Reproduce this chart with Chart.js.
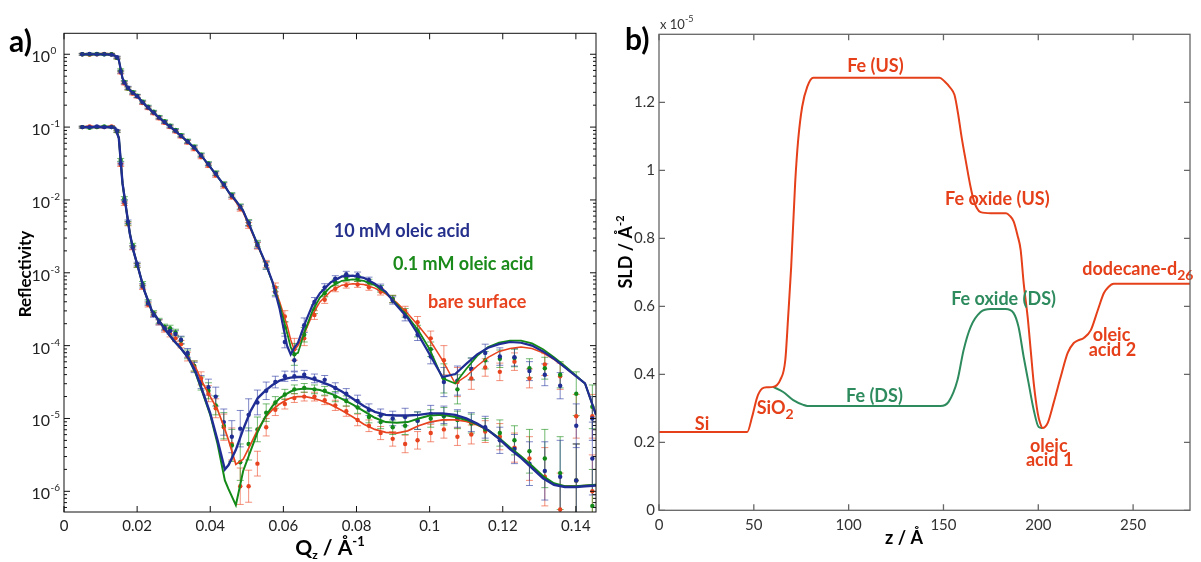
<!DOCTYPE html>
<html>
<head>
<meta charset="utf-8">
<title>Reflectivity and SLD profiles</title>
<script src="https://cdn.jsdelivr.net/npm/chart.js@4.4.1/dist/chart.umd.min.js"></script>
<style>
  html, body { margin: 0; padding: 0; background: #fff; }
  #page { position: relative; width: 1201px; height: 562px; overflow: hidden; }
  #chartA { position: absolute; left: 0; top: 0; }
  #chartB { position: absolute; left: 600px; top: 0; }
</style>
</head>
<body>
<div id="page">
  <canvas id="chartA" width="600" height="562"></canvas>
  <canvas id="chartB" width="601" height="562"></canvas>
</div>
<script>
const FONT = 'Lato, "Open Sans", "DejaVu Sans", sans-serif';

// ---------- panel a: reflectivity, values stored as log10(R) ----------
const qTicks = [0, 0.02, 0.04, 0.06, 0.08, 0.1, 0.12, 0.14];
const rDecades = [1e-6, 1e-5, 1e-4, 1e-3, 1e-2, 1e-1, 1];

// fitted curves
const qFit = [0.005, 0.008, 0.011, 0.013, 0.014, 0.015, 0.016, 0.017, 0.018, 0.019,
  0.020, 0.022, 0.024, 0.026, 0.028, 0.030, 0.032, 0.034, 0.036, 0.038,
  0.040, 0.042, 0.044, 0.045, 0.047, 0.049, 0.051, 0.053, 0.055, 0.057,
  0.059, 0.061, 0.062, 0.063, 0.064, 0.066, 0.068, 0.070, 0.073, 0.076,
  0.079, 0.082, 0.085, 0.088, 0.091, 0.094, 0.097, 0.100, 0.1035, 0.107,
  0.110, 0.113, 0.116, 0.119, 0.122, 0.125, 0.128, 0.131, 0.134, 0.137,
  0.140, 0.1425, 0.1455];

const blueUpFit = [0, 0, 0, -0.005, -0.02, -0.08, -0.33, -0.43, -0.49, -0.535,
  -0.575, -0.685, -0.78, -0.87, -0.955, -1.035, -1.12, -1.21, -1.30, -1.42,
  -1.55, -1.68, -1.81, -1.89, -2.01, -2.15, -2.38, -2.62, -2.85, -3.12,
  -3.50, -4.0, -4.12, -4.03, -3.96, -3.68, -3.44, -3.28, -3.13, -3.05,
  -3.04, -3.07, -3.15, -3.26, -3.45, -3.62, -3.86, -4.12, -4.43, -4.39,
  -4.25, -4.12, -4.03, -3.98, -3.95, -3.96, -4.0, -4.08, -4.18, -4.30,
  -4.42, -4.52, -4.95];
const greenUpFit = [0, 0, 0, -0.005, -0.02, -0.08, -0.33, -0.43, -0.49, -0.535,
  -0.575, -0.685, -0.78, -0.87, -0.955, -1.035, -1.12, -1.21, -1.30, -1.42,
  -1.55, -1.68, -1.81, -1.89, -2.01, -2.15, -2.38, -2.62, -2.86, -3.13,
  -3.45, -3.82, -4.02, -4.12, -4.10, -3.78, -3.52, -3.34, -3.19, -3.11,
  -3.09, -3.11, -3.17, -3.27, -3.43, -3.60, -3.80, -4.05, -4.45, -4.52,
  -4.32, -4.14, -4.02, -3.96, -3.93, -3.93, -3.97, -4.05, -4.16, -4.28,
  -4.41, -4.52, -4.95];
const redUpFit = [0, 0, 0, -0.005, -0.02, -0.08, -0.33, -0.43, -0.49, -0.535,
  -0.575, -0.685, -0.78, -0.87, -0.955, -1.035, -1.12, -1.21, -1.30, -1.42,
  -1.55, -1.68, -1.81, -1.89, -2.03, -2.17, -2.40, -2.63, -2.87, -3.12,
  -3.40, -3.72, -3.92, -4.06, -4.0, -3.80, -3.57, -3.40, -3.25, -3.17,
  -3.15, -3.16, -3.21, -3.29, -3.41, -3.56, -3.73, -3.92, -4.20, -4.52,
  -4.42, -4.28, -4.16, -4.08, -4.04, -4.02, -4.04, -4.10, -4.19, -4.30,
  -4.42, -4.52, -4.95];

const blueLoFit = [-1, -1, -1, -1.0, -1.01, -1.15, -1.77, -2.12, -2.46, -2.70,
  -2.88, -3.25, -3.52, -3.66, -3.80, -3.93, -4.04, -4.17, -4.36, -4.64,
  -4.93, -5.30, -5.70, -5.64, -5.43, -5.15, -4.90, -4.72, -4.62, -4.54,
  -4.48, -4.45, -4.44, -4.435, -4.43, -4.43, -4.46, -4.49, -4.55, -4.63,
  -4.73, -4.83, -4.91, -4.95, -4.96, -4.96, -4.95, -4.93, -4.93, -4.95,
  -5.0, -5.07, -5.16, -5.28, -5.42, -5.54, -5.68, -5.82, -5.91, -5.94,
  -5.94, -5.93, -5.92];
const greenLoFit = [-1, -1, -1, -1.0, -1.01, -1.15, -1.77, -2.12, -2.46, -2.70,
  -2.88, -3.25, -3.52, -3.66, -3.80, -3.93, -4.04, -4.17, -4.38, -4.66,
  -4.95, -5.35, -5.85, -5.97, -6.19, -5.72, -5.45, -5.18, -4.98, -4.83,
  -4.72, -4.66, -4.63, -4.61, -4.60, -4.59, -4.595, -4.61, -4.66, -4.73,
  -4.81, -4.90, -4.99, -5.05, -5.06, -5.05, -5.0, -4.96, -4.95, -4.98,
  -5.02, -5.08, -5.16, -5.27, -5.40, -5.52, -5.65, -5.79, -5.89, -5.93,
  -5.93, -5.92, -5.91];
const redLoFit = [-1, -1, -1, -1.0, -1.01, -1.15, -1.77, -2.12, -2.46, -2.70,
  -2.88, -3.25, -3.52, -3.66, -3.80, -3.93, -4.04, -4.17, -4.30, -4.52,
  -4.70, -4.88, -5.15, -5.30, -5.63, -5.56, -5.36, -5.15, -4.99, -4.88,
  -4.80, -4.74, -4.72, -4.705, -4.70, -4.70, -4.72, -4.75, -4.81, -4.89,
  -4.98, -5.08, -5.15, -5.19, -5.20, -5.17, -5.10, -5.05, -5.02, -5.02,
  -5.04, -5.09, -5.16, -5.28, -5.41, -5.53, -5.67, -5.81, -5.90, -5.93,
  -5.93, -5.92, -5.91];

// measured points
const qData = [0.005, 0.007, 0.009, 0.011, 0.013, 0.0145, 0.0155, 0.0165, 0.0175, 0.0188,
  0.020, 0.0215, 0.023, 0.0245, 0.026, 0.0275, 0.029, 0.0305, 0.032, 0.0338,
  0.0356, 0.0375, 0.0395, 0.0415, 0.0437, 0.0459, 0.0482, 0.0505, 0.0529, 0.0553,
  0.0578, 0.0604, 0.063, 0.0657, 0.0685, 0.0713, 0.0742, 0.0772, 0.0803, 0.0834,
  0.0866, 0.0899, 0.0933, 0.0967, 0.1003, 0.1039, 0.1076, 0.1114, 0.1152, 0.1192,
  0.1232, 0.1273, 0.1315, 0.1357, 0.1401, 0.1445];

const blueUpData = [0, 0.005, 0, 0, -0.005, -0.04, -0.24, -0.39, -0.46, -0.53,
  -0.575, -0.66, -0.73, -0.80, -0.87, -0.93, -0.99, -1.05, -1.12, -1.20,
  -1.28, -1.39, -1.51, -1.64, -1.79, -1.94, -2.10, -2.32, -2.62, -2.90,
  -3.27, -3.95, -4.20, -3.72, -3.40, -3.20, -3.08, -3.02, -3.03, -3.10,
  -3.20, -3.38, -3.60, -3.85, -4.15, -4.50, -4.48, -4.32, -4.10, -4.15,
  -4.16, -4.35, -4.40, -4.55, -5.10, -5.0];
const greenUpData = [0, 0, 0.005, 0, 0, -0.05, -0.22, -0.38, -0.47, -0.52,
  -0.57, -0.65, -0.72, -0.79, -0.86, -0.92, -0.98, -1.04, -1.11, -1.19,
  -1.27, -1.38, -1.50, -1.63, -1.78, -1.93, -2.09, -2.31, -2.60, -2.90,
  -3.25, -3.75, -4.12, -3.85, -3.50, -3.28, -3.13, -3.07, -3.08, -3.13,
  -3.22, -3.36, -3.55, -3.80, -4.05, -4.45, -4.60, -4.32, -4.20, -4.18,
  -4.17, -4.31, -4.31, -4.40, -4.66, -4.84];
const redUpData = [0, -0.005, 0, 0.005, 0, -0.05, -0.25, -0.40, -0.47, -0.54,
  -0.58, -0.67, -0.74, -0.81, -0.88, -0.94, -1.00, -1.06, -1.13, -1.21,
  -1.30, -1.41, -1.53, -1.66, -1.81, -1.96, -2.12, -2.35, -2.63, -2.88,
  -3.20, -3.60, -4.05, -3.90, -3.58, -3.37, -3.22, -3.17, -3.16, -3.20,
  -3.26, -3.36, -3.52, -3.68, -3.90, -4.20, -4.50, -4.45, -4.30, -4.36,
  -4.22, -4.45, -4.26, -4.42, -4.97, -4.97];

const blueLoData = [-1, -1.0, -0.99, -1.0, -1.0, -1.05, -1.50, -2.02, -2.30, -2.65,
  -2.88, -3.18, -3.42, -3.58, -3.68, -3.76, -3.80, -3.84, -3.92, -4.10,
  -4.30, -4.50, -4.57, -4.70, -5.05, -5.25, -5.14, -4.95, -4.78, -4.62,
  -4.50, -4.42, -4.42, -4.40, -4.45, -4.47, -4.58, -4.66, -4.76, -4.88,
  -4.96, -5.0, -4.98, -5.03, -4.94, -4.95, -5.0, -5.05, -5.12, -5.30,
  -5.42, -5.62, -5.72, -5.80, -5.85, -5.55];
const greenLoData = [-1, -1.01, -1.0, -0.99, -1.0, -1.06, -1.45, -1.98, -2.32, -2.62,
  -2.90, -3.15, -3.40, -3.55, -3.66, -3.74, -3.76, -3.82, -3.93, -4.12,
  -4.28, -4.52, -4.62, -4.82, -5.10, -5.37, -5.60, -5.35, -5.15, -4.92,
  -4.78, -4.67, -4.60, -4.58, -4.60, -4.62, -4.70, -4.76, -4.85, -4.98,
  -5.05, -5.12, -5.10, -5.03, -5.0, -4.97, -5.02, -5.07, -5.15, -5.20,
  -5.30, -5.45, -5.55, -5.75, -5.85, -6.2];
const redLoData = [-1, -0.99, -1.0, -1.0, -0.99, -1.06, -1.52, -2.05, -2.33, -2.66,
  -2.90, -3.20, -3.44, -3.57, -3.68, -3.78, -3.84, -3.90, -3.98, -4.15,
  -4.28, -4.45, -4.66, -4.86, -5.12, -5.35, -5.93, -5.93, -5.62, -5.12,
  -4.88, -4.80, -4.72, -4.70, -4.70, -4.75, -4.82, -4.90, -5.02, -5.10,
  -5.20, -5.28, -5.35, -5.30, -5.20, -5.15, -5.25, -5.22, -5.18, -5.25,
  -5.40, -5.55, -5.80, -6.25, -5.85, -6.0];

// error bar half-widths, in decades
const errUp = [0.012, 0.012, 0.012, 0.012, 0.012, 0.015, 0.02, 0.02, 0.02, 0.02,
  0.02, 0.02, 0.02, 0.02, 0.02, 0.02, 0.02, 0.02, 0.02, 0.025,
  0.025, 0.025, 0.025, 0.03, 0.03, 0.03, 0.035, 0.04, 0.045, 0.05,
  0.06, 0.08, 0.15, 0.1, 0.06, 0.05, 0.04, 0.04, 0.04, 0.04,
  0.045, 0.05, 0.06, 0.08, 0.1, 0.2, 0.2, 0.15, 0.12, 0.12,
  0.12, 0.13, 0.15, 0.18, 0.3, 0.3];
const errLo = [0.012, 0.012, 0.012, 0.012, 0.012, 0.015, 0.02, 0.025, 0.025, 0.025,
  0.025, 0.03, 0.03, 0.03, 0.035, 0.035, 0.04, 0.045, 0.05, 0.06,
  0.07, 0.09, 0.11, 0.13, 0.18, 0.22, 0.25, 0.22, 0.17, 0.12,
  0.08, 0.07, 0.06, 0.06, 0.06, 0.06, 0.07, 0.07, 0.08, 0.08,
  0.09, 0.1, 0.12, 0.12, 0.12, 0.12, 0.12, 0.13, 0.15, 0.18,
  0.2, 0.3, 0.4, 0.5, 0.5, 0.5];

// ---------- panel b: SLD profiles (units of 1e-5 / Å^2) ----------
const zTicks = [0, 50, 100, 150, 200, 250];
const sldTicks = [0, 0.2, 0.4, 0.6, 0.8, 1, 1.2];
const zUS = [0, 46.5, 49.1, 51.8, 54.4, 57, 60.2, 63.9, 66.6, 68.1,
  69.7, 71.8, 73.4, 75.5, 78.2, 81.4, 147.9, 150.5, 153.7, 155.8,
  157.6, 159.5, 161.7, 164.3, 165.9, 167.5, 169.6, 175, 183, 185,
  187, 189, 190.7, 192.3, 194.4, 196, 197.6, 199.7, 201, 202.3,
  203.5, 205, 208.1, 211.8, 215.5, 218.7, 221, 224, 227.7, 231.4,
  234.6, 237, 239.8, 280];
const sldUS = [0.23, 0.23, 0.275, 0.333, 0.358, 0.362, 0.363, 0.383, 0.442, 0.569,
  0.716, 0.963, 1.09, 1.187, 1.246, 1.272, 1.272, 1.262, 1.242, 1.222,
  1.17, 1.10, 1.03, 0.951, 0.913, 0.89, 0.877, 0.874, 0.874, 0.866,
  0.85, 0.81, 0.766, 0.668, 0.568, 0.471, 0.374, 0.286, 0.256, 0.242,
  0.245, 0.257, 0.316, 0.392, 0.463, 0.492, 0.50, 0.507, 0.53, 0.589,
  0.639, 0.657, 0.666, 0.666];
const zDS = [60.2, 65.5, 70.8, 76.1, 78.2, 148.4, 152.7, 157.4, 160.6, 164.3,
  169.6, 174.9, 182.8, 187, 189.6, 192.3, 194.9, 197.6, 200.2, 202.3];
const sldDS = [0.363, 0.348, 0.324, 0.31, 0.307, 0.307, 0.319, 0.383, 0.471, 0.539,
  0.583, 0.592, 0.592, 0.58, 0.539, 0.451, 0.374, 0.295, 0.245, 0.242];

const BLUE = '#1f2d94', GREEN = '#138a17', RED = '#e8431f';
const TEAL = '#2e8b5e', RED_B = '#e5401a';

const toPts = (xs, logs) => xs.map((x, i) => ({ x, y: Math.pow(10, logs[i]) }));
const toXY = (xs, ys) => xs.map((x, i) => ({ x, y: ys[i] }));

// text with sub/superscripts: parts = [{t, s, dy}]
function drawRich(ctx, parts, x, y, align, weight) {
  let w = 0;
  parts.forEach(p => { ctx.font = `${weight} ${p.s}px ${FONT}`; w += ctx.measureText(p.t).width; });
  let cx = align === 'center' ? x - w / 2 : align === 'right' ? x - w : x;
  ctx.textAlign = 'left';
  ctx.textBaseline = 'alphabetic';
  parts.forEach(p => {
    ctx.font = `${weight} ${p.s}px ${FONT}`;
    ctx.fillText(p.t, cx, y + (p.dy || 0));
    cx += ctx.measureText(p.t).width;
  });
}

// box frame with inward ticks on all four sides
function framePlugin(color, width, len, minorLen) {
  return {
    id: 'frame',
    afterDraw(chart) {
      const { ctx, chartArea: a, scales: { x, y } } = chart;
      ctx.save();
      ctx.strokeStyle = color;
      ctx.lineWidth = width;
      ctx.strokeRect(a.left, a.top, a.right - a.left, a.bottom - a.top);
      ctx.beginPath();
      x.ticks.forEach(t => {
        const px = x.getPixelForValue(t.value);
        ctx.moveTo(px, a.bottom); ctx.lineTo(px, a.bottom - len);
        ctx.moveTo(px, a.top); ctx.lineTo(px, a.top + len);
      });
      y.ticks.forEach(t => {
        const py = y.getPixelForValue(t.value);
        const l = t.major === false ? minorLen : len;
        ctx.moveTo(a.left, py); ctx.lineTo(a.left + l, py);
        ctx.moveTo(a.right, py); ctx.lineTo(a.right - l, py);
      });
      ctx.stroke();
      ctx.restore();
    }
  };
}

// ---------- chart a ----------
const errorSets = [
  { logR: redUpData, err: errUp, color: 'rgba(235,70,35,0.6)' },
  { logR: redLoData, err: errLo, color: 'rgba(235,70,35,0.6)' },
  { logR: greenUpData, err: errUp, color: 'rgba(20,140,20,0.6)' },
  { logR: greenLoData, err: errLo, color: 'rgba(20,140,20,0.6)' },
  { logR: blueUpData, err: errUp, color: 'rgba(40,55,160,0.6)' },
  { logR: blueLoData, err: errLo, color: 'rgba(40,55,160,0.6)' }
];

const legendA = [
  { text: '10 mM oleic acid', q: 0.0924, logR: -2.413, color: '#25308c' },
  { text: '0.1 mM oleic acid', q: 0.1092, logR: -2.867, color: '#1a8a1a' },
  { text: 'bare surface', q: 0.1130, logR: -3.40, color: RED }
];

const panelA = {
  id: 'panelA',
  beforeDatasetsDraw(chart) {
    const { ctx, chartArea: a, scales: { x, y } } = chart;
    ctx.save();
    ctx.beginPath();
    ctx.rect(a.left, a.top, a.right - a.left, a.bottom - a.top);
    ctx.clip();
    ctx.lineWidth = 1;
    errorSets.forEach(set => {
      ctx.strokeStyle = set.color;
      ctx.beginPath();
      qData.forEach((q, i) => {
        const px = x.getPixelForValue(q);
        const top = y.getPixelForValue(Math.pow(10, set.logR[i] + set.err[i]));
        const bot = y.getPixelForValue(Math.pow(10, set.logR[i] - set.err[i]));
        ctx.moveTo(px, top); ctx.lineTo(px, bot);
        ctx.moveTo(px - 3.5, top); ctx.lineTo(px + 3.5, top);
        ctx.moveTo(px - 3.5, bot); ctx.lineTo(px + 3.5, bot);
      });
      ctx.stroke();
    });
    ctx.restore();
  },
  afterDraw(chart) {
    const { ctx, chartArea: a, scales: { x, y } } = chart;
    ctx.save();
    ctx.fillStyle = '#222';
    rDecades.forEach(v => {
      const py = y.getPixelForValue(v);
      const e = String(Math.round(Math.log10(v)));
      ctx.font = `normal 16px ${FONT}`;
      ctx.textAlign = 'right';
      ctx.textBaseline = 'alphabetic';
      ctx.fillText('10', 50, py + 8);
      ctx.font = `normal 10px ${FONT}`;
      ctx.textAlign = 'left';
      ctx.fillText(e, 50.5, py);
    });

    ctx.fillStyle = '#000';
    // y title
    ctx.save();
    ctx.translate(31, 274);
    ctx.rotate(-Math.PI / 2);
    drawRich(ctx, [{ t: 'Reflectivity', s: 17 }], 0, 0, 'center', 'bold');
    ctx.restore();
    // x title
    drawRich(ctx, [{ t: 'Q', s: 21 }, { t: 'z', s: 12, dy: 4 }, { t: ' / Å', s: 21 }, { t: '-1', s: 13, dy: -9 }],
      (a.left + a.right) / 2, 555, 'center', 'bold');
    // panel letter
    drawRich(ctx, [{ t: 'a)', s: 30 }], 9, 52, 'left', 'bold');

    legendA.forEach(l => {
      ctx.fillStyle = l.color;
      drawRich(ctx, [{ t: l.text, s: 18 }], x.getPixelForValue(l.q), y.getPixelForValue(Math.pow(10, l.logR)) + 6.5, 'center', 'bold');
    });
    ctx.restore();
  }
};

const minorTicksA = [];
[1e-7, 1e-6, 1e-5, 1e-4, 1e-3, 1e-2, 1e-1, 1].forEach(d => {
  for (let m = 2; m <= 9; m++) minorTicksA.push(m * d);
});

new Chart(document.getElementById('chartA'), {
  type: 'scatter',
  data: {
    datasets: [
      { data: toPts(qFit, blueUpFit), showLine: true, borderColor: BLUE, borderWidth: 2.2, pointRadius: 0, order: 1 },
      { data: toPts(qFit, blueLoFit), showLine: true, borderColor: BLUE, borderWidth: 2.4, pointRadius: 0, order: 1 },
      { data: toPts(qFit, greenUpFit), showLine: true, borderColor: GREEN, borderWidth: 1.8, pointRadius: 0, order: 2 },
      { data: toPts(qFit, greenLoFit), showLine: true, borderColor: GREEN, borderWidth: 2, pointRadius: 0, order: 2 },
      { data: toPts(qFit, redUpFit), showLine: true, borderColor: RED, borderWidth: 1.5, pointRadius: 0, order: 3 },
      { data: toPts(qFit, redLoFit), showLine: true, borderColor: RED, borderWidth: 1.7, pointRadius: 0, order: 3 },
      { data: toPts(qData, blueUpData), backgroundColor: BLUE, pointRadius: 2.2, pointBorderWidth: 0, order: 4 },
      { data: toPts(qData, blueLoData), backgroundColor: BLUE, pointRadius: 2.2, pointBorderWidth: 0, order: 4 },
      { data: toPts(qData, greenUpData), backgroundColor: GREEN, pointRadius: 2.2, pointBorderWidth: 0, order: 5 },
      { data: toPts(qData, greenLoData), backgroundColor: GREEN, pointRadius: 2.2, pointBorderWidth: 0, order: 5 },
      { data: toPts(qData, redUpData), backgroundColor: RED, pointRadius: 2.2, pointBorderWidth: 0, order: 6 },
      { data: toPts(qData, redLoData), backgroundColor: RED, pointRadius: 2.2, pointBorderWidth: 0, order: 6 }
    ]
  },
  options: {
    responsive: false,
    animation: false,
    events: [],
    layout: { padding: { left: 0, right: 0.7, top: 33.3, bottom: 0 } },
    plugins: { legend: { display: false }, tooltip: { enabled: false } },
    scales: {
      x: {
        type: 'linear', min: 0, max: 0.1455,
        afterBuildTicks: s => { s.ticks = qTicks.map(v => ({ value: v })); },
        afterFit: s => { s.height = 50; },
        grid: { display: false, drawTicks: false },
        border: { display: false },
        ticks: {
          autoSkip: false, padding: 5, color: '#222',
          font: { family: FONT, size: 15 },
          callback: v => String(parseFloat(Number(v).toFixed(3)))
        }
      },
      y: {
        type: 'logarithmic', min: 5.2e-7, max: 1.94,
        afterBuildTicks: s => {
          const ticks = rDecades.map(v => ({ value: v, major: true }))
            .concat(minorTicksA.filter(v => v > 5.2e-7 && v < 1.94).map(v => ({ value: v, major: false })));
          s.ticks = ticks.sort((p, q) => p.value - q.value);
        },
        afterFit: s => { s.width = 64; },
        grid: { display: false, drawTicks: false },
        border: { display: false },
        ticks: { display: false }
      }
    }
  },
  plugins: [panelA, framePlugin('#111', 1, 6, 3)]
});

// ---------- chart b ----------
const sldLabels = [
  { text: 'Si', z: 22.7, v: 0.254, color: RED_B },
  { text: 'SiO', sub: '2', z: 61.3, v: 0.301, color: RED_B },
  { text: 'Fe (US)', z: 114.1, v: 1.307, color: RED_B },
  { text: 'Fe oxide (US)', z: 178.4, v: 0.918, color: RED_B },
  { text: 'Fe oxide (DS)', z: 181.7, v: 0.624, color: TEAL },
  { text: 'Fe (DS)', z: 113.6, v: 0.339, color: TEAL },
  { text: 'oleic', z: 205.5, v: 0.192, color: RED_B },
  { text: 'acid 1', z: 206, v: 0.148, color: RED_B },
  { text: 'oleic', z: 238.6, v: 0.516, color: RED_B },
  { text: 'acid 2', z: 239.1, v: 0.472, color: RED_B },
  { text: 'dodecane-d', sub: '26', z: 252.5, v: 0.712, color: RED_B }
];

const panelB = {
  id: 'panelB',
  afterDraw(chart) {
    const { ctx, chartArea: a, scales: { x, y } } = chart;
    ctx.save();
    ctx.fillStyle = '#000';
    ctx.save();
    ctx.translate(26, 252);
    ctx.rotate(-Math.PI / 2);
    drawRich(ctx, [{ t: 'SLD / Å', s: 18 }, { t: '-2', s: 11, dy: -8 }], 0, 6, 'center', 'bold');
    ctx.restore();
    drawRich(ctx, [{ t: 'z / Å', s: 18 }], 304, 544, 'center', 'bold');
    drawRich(ctx, [{ t: 'b)', s: 30 }], 25, 50, 'left', 'bold');
    ctx.fillStyle = '#333';
    drawRich(ctx, [{ t: 'x 10', s: 13 }, { t: '-5', s: 9, dy: -7 }], 60, 29, 'left', 'normal');

    sldLabels.forEach(l => {
      ctx.fillStyle = l.color;
      const parts = [{ t: l.text, s: 18 }];
      if (l.sub) parts.push({ t: l.sub, s: 14, dy: 5 });
      drawRich(ctx, parts, x.getPixelForValue(l.z), y.getPixelForValue(l.v) + 6.5, 'center', 'bold');
    });
    ctx.restore();
  }
};

new Chart(document.getElementById('chartB'), {
  type: 'scatter',
  data: {
    datasets: [
      { data: toXY(zUS, sldUS), showLine: true, borderColor: RED_B, borderWidth: 2, pointRadius: 0, cubicInterpolationMode: 'monotone', order: 1 },
      { data: toXY(zDS, sldDS), showLine: true, borderColor: TEAL, borderWidth: 2, pointRadius: 0, cubicInterpolationMode: 'monotone', order: 2 }
    ]
  },
  options: {
    responsive: false,
    animation: false,
    events: [],
    layout: { padding: { left: 0, right: 11, top: 34.3, bottom: 0 } },
    plugins: { legend: { display: false }, tooltip: { enabled: false } },
    scales: {
      x: {
        type: 'linear', min: 0, max: 280,
        afterBuildTicks: s => { s.ticks = zTicks.map(v => ({ value: v })); },
        afterFit: s => { s.height = 51.7; },
        grid: { display: false, drawTicks: false },
        border: { display: false },
        ticks: { autoSkip: false, padding: 6, color: '#333', font: { family: FONT, size: 15 } }
      },
      y: {
        type: 'linear', min: 0, max: 1.4,
        afterBuildTicks: s => { s.ticks = sldTicks.map(v => ({ value: v })); },
        afterFit: s => { s.width = 59; },
        grid: { display: false, drawTicks: false },
        border: { display: false },
        ticks: {
          autoSkip: false, padding: 4, color: '#333', font: { family: FONT, size: 15 },
          callback: v => String(parseFloat(Number(v).toFixed(2)))
        }
      }
    }
  },
  plugins: [panelB, framePlugin('#666', 1.3, 6, 6)]
});
</script>
</body>
</html>
